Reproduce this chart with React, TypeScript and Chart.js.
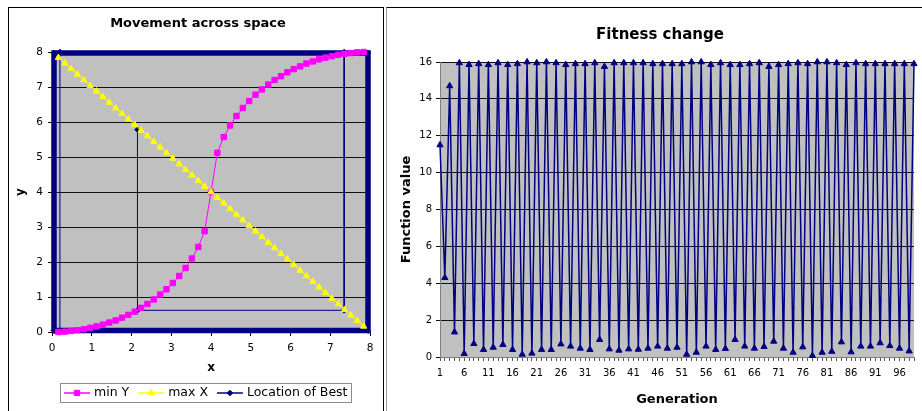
import React, { useEffect, useRef } from 'react';
import { Chart, registerables } from 'chart.js';
import { drawPoint } from 'chart.js/helpers';

Chart.register(...registerables);

const FONT = '"DejaVu Sans", Verdana, sans-serif';

// ---- Left chart: Movement across space ----
const spaceX = [0.16, 0.32, 0.48, 0.64, 0.8, 0.96, 1.12, 1.28, 1.44, 1.6, 1.76, 1.92, 2.08, 2.24, 2.4, 2.56, 2.72, 2.88, 3.04, 3.2, 3.36, 3.52, 3.68, 3.84, 4.0, 4.16, 4.32, 4.48, 4.64, 4.8, 4.96, 5.12, 5.28, 5.44, 5.6, 5.76, 5.92, 6.08, 6.24, 6.4, 6.56, 6.72, 6.88, 7.04, 7.2, 7.36, 7.52, 7.68, 7.84];
const minY = [0.0, 0.01, 0.03, 0.05, 0.08, 0.12, 0.16, 0.21, 0.27, 0.33, 0.41, 0.49, 0.58, 0.69, 0.8, 0.93, 1.07, 1.22, 1.4, 1.6, 1.83, 2.1, 2.43, 2.88, 4.0, 5.12, 5.57, 5.9, 6.17, 6.4, 6.6, 6.78, 6.93, 7.07, 7.2, 7.31, 7.42, 7.51, 7.59, 7.67, 7.73, 7.79, 7.84, 7.88, 7.92, 7.95, 7.97, 7.99, 8.0];
const maxX = [7.84, 7.68, 7.52, 7.36, 7.2, 7.04, 6.88, 6.72, 6.56, 6.4, 6.24, 6.08, 5.92, 5.76, 5.6, 5.44, 5.28, 5.12, 4.96, 4.8, 4.64, 4.48, 4.32, 4.16, 4.0, 3.84, 3.68, 3.52, 3.36, 3.2, 3.04, 2.88, 2.72, 2.56, 2.4, 2.24, 2.08, 1.92, 1.76, 1.6, 1.44, 1.28, 1.12, 0.96, 0.8, 0.64, 0.48, 0.32, 0.16];
const bestX = [0.05, 0.05, 7.95, 7.95, 0.05, 0.2, 0.2, 7.35, 7.35, 2.15, 2.15];
const bestY = [0.04, 7.97, 7.97, 0.04, 0.04, 0.0, 8.0, 8.0, 0.62, 0.62, 5.78];
const seriesNames = ['min Y', 'max X', 'Location of Best'];

// ---- Right chart: Fitness change ----
const fitness = [11.5, 4.3, 14.7, 1.35, 15.95, 0.18, 15.85, 0.72, 15.9, 0.4, 15.85, 0.52, 15.95, 0.67, 15.85, 0.4, 15.9, 0.14, 16.0, 0.2, 15.95, 0.4, 16.0, 0.4, 15.95, 0.7, 15.85, 0.58, 15.9, 0.47, 15.9, 0.4, 15.95, 0.94, 15.75, 0.43, 15.95, 0.36, 15.95, 0.43, 15.95, 0.41, 15.95, 0.47, 15.9, 0.58, 15.9, 0.47, 15.9, 0.52, 15.9, 0.14, 16.0, 0.25, 16.0, 0.58, 15.85, 0.4, 15.95, 0.45, 15.85, 0.94, 15.85, 0.58, 15.9, 0.47, 15.95, 0.56, 15.75, 0.85, 15.85, 0.47, 15.9, 0.25, 15.95, 0.54, 15.9, 0.07, 16.0, 0.25, 16.0, 0.3, 15.95, 0.81, 15.85, 0.27, 15.95, 0.58, 15.9, 0.58, 15.9, 0.76, 15.9, 0.61, 15.9, 0.47, 15.9, 0.32, 15.9];
const generations = fitness.map((_, i) => String(i + 1));

const plotBg = {
  id: 'plotBg',
  beforeDraw(chart: any) {
    const { ctx, chartArea: a } = chart;
    ctx.save();
    ctx.fillStyle = '#C0C0C0';
    ctx.fillRect(a.left, a.top, a.right - a.left, a.bottom - a.top);
    ctx.restore();
  },
};

const titleText = (text: string, cx: number, cy: number, size: number) => ({
  id: 'titleText',
  afterDraw(chart: any) {
    const ctx = chart.ctx;
    ctx.save();
    ctx.font = `bold ${size}px ${FONT}`;
    ctx.fillStyle = '#000';
    ctx.textAlign = 'center';
    ctx.textBaseline = 'middle';
    ctx.fillText(text, cx, cy);
    ctx.restore();
  },
});

const boxLegend = {
  id: 'boxLegend',
  afterDraw(chart: any) {
    const ctx = chart.ctx;
    const items = chart.data.datasets.map((ds: any) => ({
      label: ds.label, color: ds.borderColor, style: ds.pointStyle, r: ds.pointRadius,
    }));
    ctx.save();
    ctx.font = `12.5px ${FONT}`;
    const lineLen = 26, gapText = 4, gapItem = 9, pad = 4, h = 19;
    const widths = items.map((it: any) => ctx.measureText(it.label).width);
    const total = pad * 2 + widths.reduce((s: number, w: number) => s + lineLen + gapText + w, 0) + gapItem * (items.length - 1);
    const a = chart.chartArea;
    const cx = (a.left + a.right) / 2 - 5;
    const left = Math.round(cx - total / 2);
    const top = a.bottom + 51;
    ctx.strokeStyle = '#8c8c8c';
    ctx.lineWidth = 1;
    ctx.strokeRect(left + 0.5, top + 0.5, Math.round(total), h);
    const cy = top + h / 2 + 0.5;
    let x = left + pad;
    items.forEach((it: any, i: number) => {
      ctx.strokeStyle = it.color;
      ctx.lineWidth = 1.5;
      ctx.beginPath();
      ctx.moveTo(x, cy);
      ctx.lineTo(x + lineLen, cy);
      ctx.stroke();
      ctx.fillStyle = it.color;
      ctx.lineWidth = 1;
      drawPoint(ctx, { pointStyle: it.style, radius: it.r, rotation: 0, borderWidth: 1 } as any, x + lineLen / 2, cy);
      ctx.fillStyle = '#000';
      ctx.textAlign = 'left';
      ctx.textBaseline = 'middle';
      ctx.fillText(it.label, x + lineLen + gapText, cy);
      x += lineLen + gapText + widths[i] + gapItem;
    });
    ctx.restore();
  },
};

function makeSpaceChart(canvas: HTMLCanvasElement) {
  return new Chart(canvas, {
    type: 'scatter',
    data: {
      datasets: [
        {
          label: seriesNames[0],
          data: spaceX.map((x, i) => ({ x, y: minY[i] })),
          showLine: true,
          borderColor: '#FF00FF',
          backgroundColor: '#FF00FF',
          borderWidth: 1,
          pointStyle: 'rect',
          pointRadius: 3.8,
          pointBorderWidth: 1,
          order: 2,
          clip: false,
        } as any,
        {
          label: seriesNames[1],
          data: spaceX.map((x, i) => ({ x, y: maxX[i] })),
          showLine: true,
          borderColor: '#FFFF00',
          backgroundColor: '#FFFF00',
          borderWidth: 1,
          pointStyle: 'triangle',
          pointRadius: 3.6,
          pointBorderWidth: 1,
          order: 1,
          clip: false,
        },
        {
          label: seriesNames[2],
          data: bestX.map((x, i) => ({ x, y: bestY[i] })),
          showLine: true,
          borderColor: '#000080',
          backgroundColor: '#000080',
          borderWidth: 1,
          pointStyle: 'rectRot',
          pointRadius: 2.8,
          pointBorderWidth: 1,
          order: 3,
          clip: false,
          segment: { borderWidth: (ctx: any) => (ctx.p0DataIndex < 4 ? 5.5 : 1) },
        },
      ],
    },
    options: {
      responsive: false,
      animation: false,
      devicePixelRatio: 1,
      events: [],
      layout: { padding: { left: 0, right: 12, top: 44, bottom: 0 } },
      plugins: { legend: { display: false }, tooltip: { enabled: false }, title: { display: false } },
      scales: {
        x: {
          type: 'linear', min: 0, max: 8,
          ticks: { stepSize: 1, color: '#000', font: { family: FONT, size: 10.5 }, padding: 6, maxRotation: 0 },
          grid: { drawOnChartArea: false, drawTicks: true, tickLength: 4, color: '#000' },
          border: { display: true, color: '#808080' },
          title: { display: true, text: 'x', color: '#000', font: { family: FONT, size: 12, weight: 'bold' }, padding: { top: 0, bottom: 36 } },
          afterFit: (s: any) => { s.height = 79; },
        },
        y: {
          type: 'linear', min: 0, max: 8,
          ticks: { stepSize: 1, color: '#000', font: { family: FONT, size: 10.5 }, padding: 5 },
          grid: { color: '#111', lineWidth: 1, tickLength: 4 },
          border: { display: true, color: '#808080' },
          title: { display: true, text: 'y', color: '#000', font: { family: FONT, size: 12, weight: 'bold' }, padding: { top: 5, bottom: 0 } },
          afterFit: (s: any) => { s.width = 43; },
        },
      },
    } as any,
    plugins: [plotBg, titleText('Movement across space', 189, 15.5, 13), boxLegend],
  });
}

function makeFitnessChart(canvas: HTMLCanvasElement) {
  return new Chart(canvas, {
    type: 'line',
    data: {
      labels: generations,
      datasets: [
        {
          label: 'Fitness',
          data: fitness,
          borderColor: '#000080',
          backgroundColor: '#000080',
          borderWidth: 1.5,
          pointStyle: 'triangle',
          pointRadius: 3.6,
          pointBorderWidth: 1,
          tension: 0,
          clip: false,
        } as any,
      ],
    },
    options: {
      responsive: false,
      animation: false,
      devicePixelRatio: 1,
      events: [],
      layout: { padding: { left: 0, right: 8, top: 54, bottom: 0 } },
      plugins: { legend: { display: false }, tooltip: { enabled: false }, title: { display: false } },
      scales: {
        x: {
          type: 'category', offset: false,
          ticks: {
            autoSkip: false, maxRotation: 0, minRotation: 0, color: '#000', font: { family: FONT, size: 10 }, padding: 6,
            callback: (_v: any, i: number) => (i % 5 === 0 ? generations[i] : ''),
          },
          grid: { drawOnChartArea: false, drawTicks: true, tickLength: 4, color: '#555' },
          border: { display: true, color: '#808080' },
          title: { display: true, text: 'Generation', color: '#000', font: { family: FONT, size: 13, weight: 'bold' }, padding: { top: 0, bottom: 4 } },
          afterFit: (s: any) => { s.height = 54; },
        },
        y: {
          min: 0, max: 16,
          ticks: { stepSize: 2, color: '#000', font: { family: FONT, size: 10 }, padding: 4 },
          grid: { color: '#111', lineWidth: 1, tickLength: 4 },
          border: { display: true, color: '#808080' },
          title: { display: true, text: 'Function value', color: '#000', font: { family: FONT, size: 13, weight: 'bold' }, padding: { top: 12, bottom: 0 } },
          afterFit: (s: any) => { s.width = 53; },
        },
      },
    } as any,
    plugins: [plotBg, titleText('Fitness change', 273, 27, 15)],
  });
}

function ChartCanvas({ make, left, top, width, height }: { make: (c: HTMLCanvasElement) => Chart; left: number; top: number; width: number; height: number }) {
  const ref = useRef<HTMLCanvasElement>(null);
  useEffect(() => {
    const chart = make(ref.current as HTMLCanvasElement);
    return () => chart.destroy();
  }, []);
  return (
    <canvas
      ref={ref}
      width={width}
      height={height}
      style={{ position: 'absolute', left, top, width, height, display: 'block' }}
    />
  );
}

export default function App() {
  return (
    <div style={{ position: 'absolute', left: 0, top: 0, width: 922, height: 411, overflow: 'hidden', background: '#fff' }}>
      <div style={{ position: 'absolute', left: 8, top: 7, width: 376, height: 440, border: '1px solid #000', boxSizing: 'border-box' }} />
      <div style={{ position: 'absolute', left: 386, top: 7, width: 600, height: 440, borderTop: '1px solid #000', borderLeft: '1px solid #9a9a9a', boxSizing: 'border-box' }} />
      <ChartCanvas make={makeSpaceChart} left={9} top={8} width={373} height={403} />
      <ChartCanvas make={makeFitnessChart} left={387} top={8} width={535} height={403} />
    </div>
  );
}
